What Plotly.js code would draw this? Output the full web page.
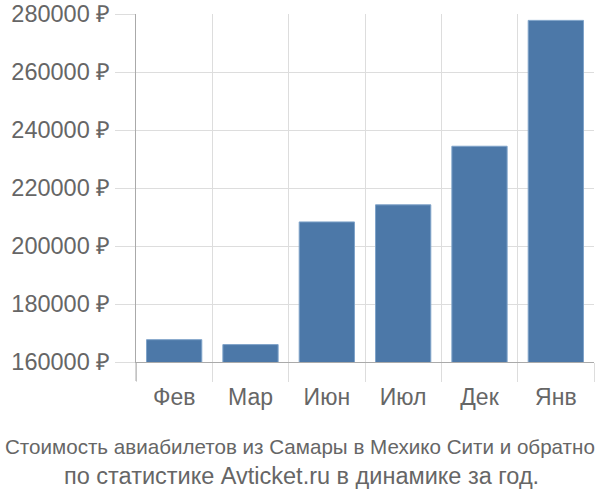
<!DOCTYPE html>
<html>
<head>
<meta charset="utf-8">
<script src="https://cdn.plot.ly/plotly-3.0.1.min.js"></script>
<style>html,body{margin:0;padding:0;background:#fff;}#chart{width:600px;height:500px;}</style>
</head>
<body>
<div id="chart"></div>
<script>
var months = ["Фев", "Мар", "Июн", "Июл", "Дек", "Янв"];
var prices = [167700, 166000, 208300, 214200, 234400, 277800];
var yTickVals = [160000, 180000, 200000, 220000, 240000, 260000, 280000];
var currency = " ₽";
var titleLines = ["Стоимость авиабилетов из Самары в Мехико Сити и обратно", "по статистике Avticket.ru в динамике за год."];

var font = "Liberation Sans, Arial, sans-serif";
var gridCol = "#dddddd";
var axisCol = "#aaaaaa";
var textCol = "#666666";

var plotLeft = 136, plotRight = 594, plotTop = 14, plotBottom = 362;
var plotW = plotRight - plotLeft, plotH = plotBottom - plotTop;

var trace = {
  type: "bar",
  x: months,
  y: prices,
  marker: {color: "#4c78a8", line: {color: "#7fa3c9", width: 1}},
  hoverinfo: "none"
};

var layout = {
  width: 600,
  height: 500,
  margin: {l: plotLeft, r: 600 - plotRight, t: plotTop, b: 500 - plotBottom},
  paper_bgcolor: "#fff",
  plot_bgcolor: "#fff",
  showlegend: false,
  bargap: 0.276,
  font: {family: font, color: textCol, size: 23},
  xaxis: {
    type: "category",
    tickson: "boundaries",
    showgrid: true,
    gridcolor: gridCol,
    gridwidth: 1,
    ticks: "outside",
    ticklen: 19,
    tickcolor: gridCol,
    tickwidth: 1,
    ticklabelstandoff: 14,
    showline: true,
    linecolor: axisCol,
    linewidth: 1,
    tickfont: {family: font, size: 23, color: textCol},
    fixedrange: true
  },
  yaxis: {
    range: [160000, 280000],
    tickvals: yTickVals,
    ticktext: yTickVals.map(function(v){return v + currency;}),
    showgrid: true,
    gridcolor: gridCol,
    gridwidth: 1,
    zeroline: false,
    ticks: "outside",
    ticklen: 20,
    tickcolor: gridCol,
    showline: true,
    linecolor: axisCol,
    linewidth: 1,
    tickfont: {family: font, size: 23.5, color: textCol},
    fixedrange: true
  },
  shapes: [{
    type: "line", xref: "paper", yref: "paper",
    x0: 0, x1: 0, y0: 0, y1: -19/plotH,
    line: {color: axisCol, width: 1}
  }],
  annotations: [
    {
      text: titleLines[0], showarrow: false,
      xref: "paper", yref: "paper",
      x: (300 - plotLeft) / plotW, xanchor: "center",
      y: (plotBottom - 446) / plotH, yanchor: "middle",
      font: {family: font, size: 20.6, color: textCol}
    },
    {
      text: titleLines[1], showarrow: false,
      xref: "paper", yref: "paper",
      x: (301 - plotLeft) / plotW, xanchor: "center",
      y: (plotBottom - 476) / plotH, yanchor: "middle",
      font: {family: font, size: 23.5, color: textCol}
    }
  ]
};

Plotly.newPlot("chart", [trace], layout, {displayModeBar: false, staticPlot: true});
</script>
</body>
</html>
